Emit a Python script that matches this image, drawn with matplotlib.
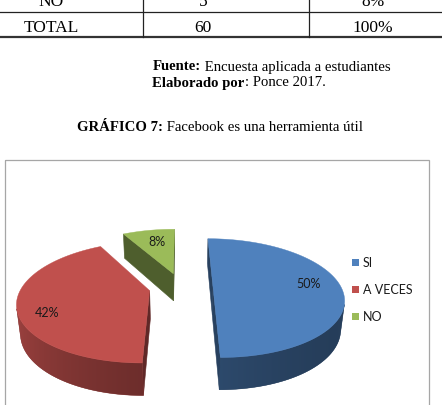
import numpy as np
import matplotlib
matplotlib.use("Agg")
import matplotlib.pyplot as plt
from matplotlib.patches import Polygon, Rectangle
from matplotlib.colors import to_rgb

# Datos del grafico
categorias = ['SI', 'A VECES', 'NO']
valores = [50, 42, 8]          # porcentajes
colores = ['#4F81BD', '#C0504D', '#9BBB59']

# Filas de la tabla (la primera queda recortada arriba)
tabla_filas = [['NO', '5', '8%'], ['TOTAL', '60', '100%']]

fig = plt.figure(figsize=(4.42, 4.06), dpi=100)
ax = fig.add_axes([0, 0, 1, 1])
ax.set_xlim(0, 442)
ax.set_ylim(406, 0)
ax.axis('off')
renderer = fig.canvas.get_renderer()

SERIF = 'Liberation Serif'
SANS = 'Lato'

# ---- tabla ----
col_x = [51, 203, 373]
fila_y = [6.5, 32]
for fila, yb in zip(tabla_filas, fila_y):
    for txt, xc in zip(fila, col_x):
        ax.text(xc, yb, txt, ha='center', va='baseline', fontsize=12.5, family=SERIF)
ax.plot([0, 442], [13, 13], color='#222222', lw=0.9)
ax.plot([0, 442], [38, 38], color='#333333', lw=1.6)
for xv in [143, 309]:
    ax.plot([xv, xv], [0, 38], color='#222222', lw=0.9)


def texto_mixto(x, y, partes, size=10.6):
    for txt, peso in partes:
        t = ax.text(x, y, txt, fontsize=size, fontweight=peso, family=SERIF,
                    va='baseline', ha='left')
        x += t.get_window_extent(renderer).width


texto_mixto(152.5, 70.5, [('Fuente:', 'bold'), (' Encuesta aplicada a estudiantes', 'normal')])
texto_mixto(152.5, 86.5, [('Elaborado por', 'bold'), (': Ponce 2017.', 'normal')])
texto_mixto(77, 131.5, [('GRÁFICO 7:', 'bold'), (' Facebook es una herramienta útil', 'normal')])

# marco del grafico
ax.add_patch(Rectangle((4.5, 160.5), 424, 260, facecolor='none', edgecolor='#A6A6A6', lw=0.9))

# ---- pastel 3D ----
phi = np.radians(26.6)
D = 4.78
S = 128
cx, cy = 181, 288
h = 0.25
explode = 0.25
cam = np.array([0, -D * np.cos(phi), D * np.sin(phi)])


def proyectar(X, Y, Z):
    t = -Y * np.cos(phi) + Z * np.sin(phi)
    s = D / (D - t)
    return cx + S * X * s, cy - S * (Y * np.sin(phi) + Z * np.cos(phi)) * s


def sombra(color, f):
    return np.clip(np.array(to_rgb(color)) * f, 0, 1)


luz = np.array([-0.9, 0.6])
luz = luz / np.linalg.norm(luz)


def factor_pared(t):
    d = np.dot([np.sin(t), np.cos(t)], luz)
    return 0.48 + 0.2 * (d + 1)


total = sum(valores)
angulos = np.cumsum([0] + [v / total * 360 for v in valores])
rad_etq = [0.75, 0.78, 0.75]
ajuste_etq = [(0, -4), (0, 10), (3, 1)]

porciones = []
for i, v in enumerate(valores):
    a0, a1 = angulos[i], angulos[i + 1]
    mid = np.radians((a0 + a1) / 2)
    ox, oy = explode * np.sin(mid), explode * np.cos(mid)
    porciones.append((i, a0, a1, ox, oy))

z = 2
# dibujar de atras hacia adelante
porciones.sort(key=lambda p: -p[4])
for i, a0, a1, ox, oy in porciones:
    col = colores[i]
    th = np.radians(np.linspace(a0, a1, 200))

    # caras radiales visibles
    for a, sgn in [(a0, -1), (a1, 1)]:
        ar = np.radians(a)
        an = ar + sgn * np.pi / 2
        n = np.array([np.sin(an), np.cos(an), 0])
        p = np.array([ox + 0.5 * np.sin(ar), oy + 0.5 * np.cos(ar), -h / 2])
        if np.dot(n, cam - p) <= 0:
            continue
        pts = [proyectar(ox, oy, 0), proyectar(ox + np.sin(ar), oy + np.cos(ar), 0),
               proyectar(ox + np.sin(ar), oy + np.cos(ar), -h), proyectar(ox, oy, -h)]
        fc = sombra(col, 0.5)
        ax.add_patch(Polygon(pts, closed=True, facecolor=fc, edgecolor=fc, lw=0.4, zorder=z))
        z += 1

    # pared exterior visible (una sola pieza con degradado)
    vis = []
    for k in range(len(th) - 1):
        tm = (th[k] + th[k + 1]) / 2
        n = np.array([np.sin(tm), np.cos(tm), 0])
        p = np.array([ox + np.sin(tm), oy + np.cos(tm), -h / 2])
        if np.dot(n, cam - p) > 0:
            vis.append(k)
    if vis:
        tt = th[vis[0]:vis[-1] + 2]
        arriba = [proyectar(ox + np.sin(t), oy + np.cos(t), 0) for t in tt]
        abajo = [proyectar(ox + np.sin(t), oy + np.cos(t), -h) for t in tt[::-1]]
        pts = np.array(arriba + abajo)
        cols = np.array([sombra(col, factor_pared(t)) for t in tt])
        media = cols.mean(axis=0)
        pared = Polygon(pts, closed=True, facecolor=media, edgecolor=media, lw=0.3, zorder=z)
        ax.add_patch(pared)
        z += 1
        xs = np.array([proyectar(ox + np.sin(t), oy + np.cos(t), -h / 2)[0] for t in tt])
        orden = np.argsort(xs)
        x0, x1 = pts[:, 0].min(), pts[:, 0].max()
        y0, y1 = pts[:, 1].min(), pts[:, 1].max()
        xg = np.linspace(x0, x1, 400)
        img = np.stack([np.interp(xg, xs[orden], cols[orden, c]) for c in range(3)], axis=-1)
        im = ax.imshow(np.repeat(img[None], 2, axis=0), extent=(x0, x1, y1, y0),
                       aspect='auto', interpolation='bilinear', zorder=z)
        im.set_clip_path(pared)
        z += 1

    # cara superior
    top = [proyectar(ox, oy, 0)] + [proyectar(ox + np.sin(t), oy + np.cos(t), 0) for t in th]
    ax.add_patch(Polygon(top, closed=True, facecolor=col, edgecolor=col, lw=0.3, zorder=z))
    z += 1

# etiquetas de porcentaje
for i, v in enumerate(valores):
    mid = np.radians((angulos[i] + angulos[i + 1]) / 2)
    ox, oy = explode * np.sin(mid), explode * np.cos(mid)
    r = rad_etq[i]
    x, y = proyectar(ox + r * np.sin(mid), oy + r * np.cos(mid), 0)
    dx, dy = ajuste_etq[i]
    ax.text(x + dx, y + dy, f'{v}%', ha='center', va='center', fontsize=9,
            family=SANS, color='#1a1a1a', zorder=z)

# leyenda
for k, (cat, col) in enumerate(zip(categorias, colores)):
    yl = 263.5 + k * 27
    ax.add_patch(Rectangle((352, yl - 3.5), 7, 7, facecolor=col, edgecolor='none'))
    ax.text(363, yl, cat, ha='left', va='center', fontsize=9, family=SANS, color='#1a1a1a')

ax.set_xlim(0, 442)
ax.set_ylim(406, 0)
fig.savefig('out.png', dpi=100)
